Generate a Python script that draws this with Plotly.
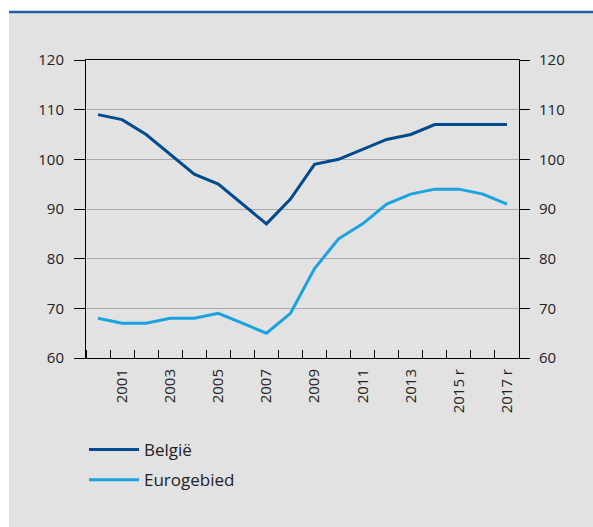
import plotly.graph_objects as go

years = list(range(2000, 2018))
belgie = [109, 108, 105, 101, 97, 95, 91, 87, 92, 99, 100, 102, 104, 105, 107, 107, 107, 107]
eurogebied = [68, 67, 67, 68, 68, 69, 67, 65, 69, 78, 84, 87, 91, 93, 94, 94, 93, 91]
tick_years = [2001, 2003, 2005, 2007, 2009, 2011, 2013, 2015, 2017]
tick_text = ["2001", "2003", "2005", "2007", "2009", "2011", "2013", "2015 r", "2017 r"]
y_ticks = [60, 70, 80, 90, 100, 110, 120]

W, H = 593, 527
L, R, T, B = 86, 74, 60, 169
pw, ph = W - L - R, H - T - B

def px(x):
    return (x - L) / pw

def py(y):
    return (H - B - y) / ph

font = dict(family="Open Sans", size=15, color="#222222")

fig = go.Figure()
fig.add_trace(go.Scatter(x=years, y=belgie, mode="lines", name="België",
                         line=dict(color="#004B8D", width=3), legendgroup="a"))
fig.add_trace(go.Scatter(x=years, y=eurogebied, mode="lines", name="Eurogebied",
                         line=dict(color="#1AA3E0", width=3), legendgroup="b"))
fig.add_trace(go.Scatter(x=years, y=belgie, mode="lines", yaxis="y2", showlegend=False,
                         hoverinfo="skip", line=dict(color="rgba(0,0,0,0)", width=0)))

fig.update_layout(
    width=W, height=H,
    margin=dict(l=L, r=R, t=T, b=B),
    paper_bgcolor="white",
    plot_bgcolor="white",
    font=font,
    showlegend=True,
    legend=dict(x=px(84), y=py(432), xanchor="left", yanchor="top",
                bgcolor="rgba(0,0,0,0)", font=dict(family="Open Sans", size=17, color="#222222"),
                traceorder="grouped", tracegroupgap=5, itemwidth=50),
    xaxis=dict(range=[1999.5, 2017.5], tickvals=tick_years, ticktext=tick_text,
               tickangle=-90, ticks="", showgrid=False, zeroline=False,
               showline=True, linecolor="black", linewidth=1, mirror=True,
               minor=dict(tick0=1999.5, dtick=1, ticks="inside", ticklen=8,
                          tickcolor="black", tickwidth=1, showgrid=False),
               tickfont=font, ticklabelstandoff=4),
    yaxis=dict(range=[60, 120], tickvals=y_ticks, ticks="outside", ticklen=11,
               tickcolor="black", showgrid=True, gridcolor="#AAAAAA", gridwidth=1,
               zeroline=False, showline=True, linecolor="black", linewidth=1,
               tickfont=font, ticklabelstandoff=7),
    yaxis2=dict(range=[60, 120], tickvals=y_ticks, ticks="outside", ticklen=10,
                tickcolor="black", overlaying="y", side="right", showgrid=False,
                zeroline=False, showline=True, linecolor="black", linewidth=1,
                tickfont=font, ticklabelstandoff=6),
    shapes=[
        dict(type="rect", xref="paper", yref="paper", layer="below",
             x0=px(9), x1=px(W), y0=py(H), y1=py(13),
             fillcolor="#E2E2E2", line=dict(width=0)),
        dict(type="line", xref="paper", yref="paper",
             x0=px(9), x1=px(W), y0=py(12), y1=py(12),
             line=dict(color="#1F5FA0", width=2.5)),
    ],
)

fig.write_html("out.html")
